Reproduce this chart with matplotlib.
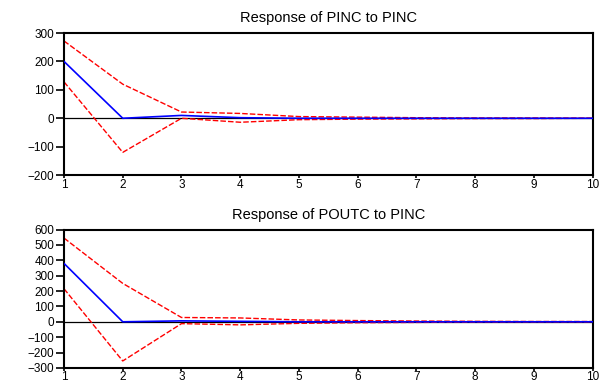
import matplotlib
matplotlib.use("Agg")
import matplotlib.pyplot as plt
import numpy as np

plt.rcParams["font.family"] = ["Liberation Sans", "DejaVu Sans"]

periods = np.arange(1, 11)

# Response of PINC to PINC
pinc_resp = [200, 0, 10, 2, 0, 0, 0, 0, 0, 0]
pinc_upper = [272, 120, 22, 17, 6, 4, 2, 1, 1, 0]
pinc_lower = [128, -120, 0, -14, -5, -3, -2, -1, -1, 0]

# Response of POUTC to PINC
poutc_resp = [380, 0, 6, 3, 0, 0, 0, 0, 0, 0]
poutc_upper = [545, 250, 28, 25, 12, 8, 5, 3, 2, 2]
poutc_lower = [215, -255, -12, -20, -10, -6, -4, -2, -1, -1]

titles = ["Response of PINC to PINC", "Response of POUTC to PINC"]
yticks = [np.arange(-200, 301, 100), np.arange(-300, 601, 100)]

fig = plt.figure(figsize=(6.04, 3.84), dpi=100)
ax1 = fig.add_axes([0.106, 0.544, 0.875, 0.370])
ax2 = fig.add_axes([0.106, 0.042, 0.875, 0.360])

panels = [
    (ax1, pinc_resp, pinc_upper, pinc_lower),
    (ax2, poutc_resp, poutc_upper, poutc_lower),
]

for i, (ax, resp, up, lo) in enumerate(panels):
    ax.axhline(0, color="black", lw=0.9, zorder=1)
    ax.plot(periods, up, color="red", lw=1.0, ls=(0, (4, 1.5)), zorder=2)
    ax.plot(periods, lo, color="red", lw=1.0, ls=(0, (4, 1.5)), zorder=2)
    ax.plot(periods, resp, color="blue", lw=1.2, zorder=3)
    ax.set_xlim(1, 10)
    ax.set_ylim(yticks[i][0], yticks[i][-1])
    ax.set_yticks(yticks[i])
    ax.set_xticks(periods)
    ax.tick_params(axis="both", labelsize=8.5, direction="out", width=1.2)
    ax.tick_params(axis="y", length=6, pad=1)
    ax.tick_params(axis="x", length=2, pad=0.5)
    for sp in ax.spines.values():
        sp.set_linewidth(1.5)
    ax.set_title(titles[i], fontsize=10.5, pad=8)

fig.savefig("out.png", dpi=100)
